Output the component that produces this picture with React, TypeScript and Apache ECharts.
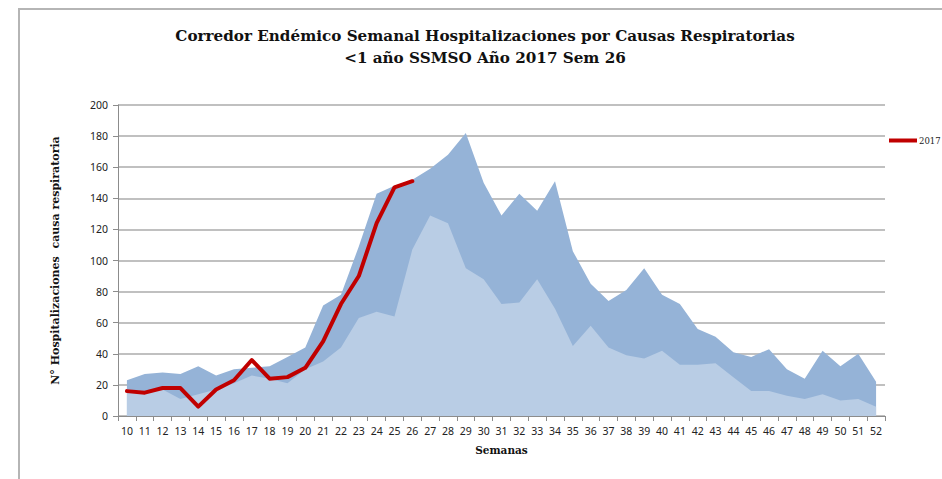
import React, { useEffect, useRef } from "react";
import * as echarts from "echarts";

const weeks = [
  "10","11","12","13","14","15","16","17","18","19","20","21","22","23","24","25","26","27","28","29","30",
  "31","32","33","34","35","36","37","38","39","40","41","42","43","44","45","46","47","48","49","50","51","52",
];
const upperBand = [
  23, 27, 28, 27, 32, 26, 30, 31, 32, 38, 44, 71, 78, 109, 143, 148, 152, 159, 168, 182, 150,
  129, 143, 132, 151, 106, 85, 74, 81, 95, 78, 72, 56, 51, 41, 38, 43, 30, 24, 42, 32, 40, 22,
];
const lowerBand = [
  17, 16, 17, 11, 14, 17, 21, 26, 24, 21, 30, 35, 44, 63, 67, 64, 107, 129, 124, 95, 88,
  72, 73, 88, 69, 45, 58, 44, 39, 37, 42, 33, 33, 34, 25, 16, 16, 13, 11, 14, 10, 11, 6,
];
const cases2017 = [16, 15, 18, 18, 6, 17, 23, 36, 24, 25, 31, 48, 72, 90, 124, 147, 151];

const titleText = "Corredor Endémico Semanal Hospitalizaciones por Causas Respiratorias\n<1 año SSMSO Año 2017 Sem 26";
const yName = "N° Hospitalizaciones  causa respiratoria";
const xName = "Semanas";

export default function App() {
  const ref = useRef<HTMLDivElement>(null);
  useEffect(() => {
    const chart = echarts.init(ref.current!, null, { renderer: "svg" });
    const labelFont = { fontFamily: "Noto Sans", fontSize: 10.5, color: "#222" };
    chart.setOption({
      animation: false,
      backgroundColor: "#fff",
      title: {
        text: titleText,
        left: 480,
        top: 20,
        textAlign: "center",
        textStyle: {
          fontFamily: "DejaVu Serif",
          fontWeight: "bold",
          fontSize: 15.2,
          lineHeight: 22,
          color: "#111",
        },
      },
      graphic: [
        {
          type: "polyline",
          shape: { points: [[19, 479], [19, 9], [942, 9]] },
          style: { stroke: "#b5b5b5", lineWidth: 2, fill: "none" },
        },
      ],
      legend: {
        data: [{ name: "2017" }],
        left: 884,
        top: 131,
        itemWidth: 28,
        itemHeight: 4,
        itemGap: 2,
        icon: "rect",
        textStyle: { fontFamily: "DejaVu Serif", fontSize: 8.5, color: "#222", padding: [0, 0, 0, -3] },
      },
      grid: { left: 118, right: 57, top: 105, bottom: 63 },
      xAxis: {
        type: "category",
        data: weeks,
        boundaryGap: true,
        name: xName,
        nameLocation: "middle",
        nameGap: 28,
        nameTextStyle: { fontFamily: "DejaVu Serif", fontWeight: "bold", fontSize: 10.5, color: "#111" },
        axisLine: { lineStyle: { color: "#8c8c8c", width: 1 } },
        axisTick: { show: true, length: 5, lineStyle: { color: "#8c8c8c" } },
        axisLabel: { ...labelFont, margin: 9, interval: 0 },
        splitLine: { show: false },
      },
      yAxis: {
        type: "value",
        min: 0,
        max: 200,
        interval: 20,
        name: yName,
        nameLocation: "middle",
        nameGap: 57,
        nameTextStyle: { fontFamily: "DejaVu Serif", fontWeight: "bold", fontSize: 11, color: "#111" },
        axisLine: { show: true, lineStyle: { color: "#8c8c8c", width: 1 } },
        axisTick: { show: true, length: 5, lineStyle: { color: "#8c8c8c" } },
        axisLabel: { ...labelFont, margin: 10 },
        splitLine: { show: true, lineStyle: { color: "#ababab", width: 1.5 } },
      },
      series: [
        {
          name: "Superior",
          type: "line",
          data: upperBand,
          showSymbol: false,
          symbol: "none",
          lineStyle: { width: 0 },
          areaStyle: { color: "#95b3d7", opacity: 1 },
          z: 2,
        },
        {
          name: "Inferior",
          type: "line",
          data: lowerBand,
          showSymbol: false,
          symbol: "none",
          lineStyle: { width: 0 },
          areaStyle: { color: "#b9cde5", opacity: 1 },
          z: 3,
        },
        {
          name: "2017",
          type: "line",
          data: cases2017,
          showSymbol: false,
          symbol: "none",
          itemStyle: { color: "#c00000" },
          lineStyle: { color: "#c00000", width: 4, join: "round", cap: "round" },
          z: 5,
        },
      ],
    });
    return () => chart.dispose();
  }, []);
  return (
    <div
      ref={ref}
      style={{ position: "fixed", left: 0, top: 0, width: 942, height: 479 }}
    />
  );
}
